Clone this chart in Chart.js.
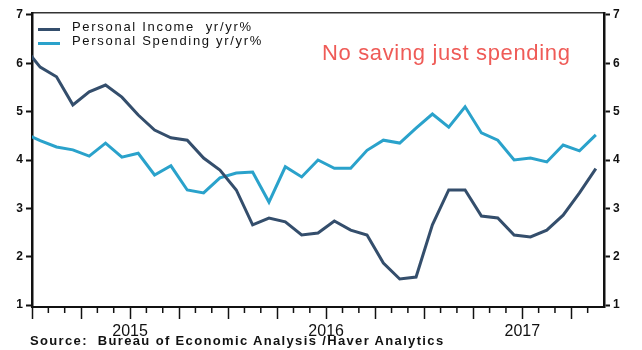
<!DOCTYPE html>
<html>
<head>
<meta charset="utf-8">
<script src="https://cdn.jsdelivr.net/npm/chart.js@4.4.0/dist/chart.umd.min.js"></script>
<style>
  html, body { margin: 0; padding: 0; background: #fff; }
  #wrap { position: relative; width: 642px; height: 350px; font-family: "Liberation Sans", Arial, sans-serif; }
  #wrap canvas { position: absolute; left: 0; top: 0; }
  .legend { position: absolute; left: 38px; top: 20px; font-size: 13px; line-height: 14px; color: #111; letter-spacing: 1.7px; }
  .legend div { position: relative; padding-left: 34px; white-space: nowrap; }
  .legend span { position: absolute; left: 0; top: 8px; width: 22px; height: 3px; }
  .note { position: absolute; left: 322px; top: 40px; font-size: 22px; line-height: 25px; color: #ef5b57; letter-spacing: 0.65px; white-space: nowrap; }
  .source { position: absolute; left: 30px; top: 333px; font-size: 13px; line-height: 15px; font-weight: bold; color: #111; letter-spacing: 1.35px; white-space: nowrap; }
</style>
</head>
<body>
<div id="wrap">
  <canvas id="chart" width="642" height="350"></canvas>
  <div class="legend">
    <div><span style="background:#344e6c"></span>Personal Income&nbsp; yr/yr%</div>
    <div><span style="background:#2aa2cb"></span>Personal Spending yr/yr%</div>
  </div>
  <div class="note">No saving just spending</div>
  <div class="source">Source:&nbsp; Bureau of Economic Analysis /Haver Analytics</div>
</div>
<script>
// yr/yr % change, monthly from Dec 2014 to Nov 2017
const income = [6.34, 5.92, 5.72, 5.14, 5.41, 5.55, 5.30, 4.93, 4.62, 4.46, 4.41, 4.04,
  3.79, 3.38, 2.66, 2.80, 2.72, 2.45, 2.49, 2.74, 2.55, 2.45, 1.87, 1.54,
  1.58, 2.66, 3.38, 3.38, 2.84, 2.80, 2.45, 2.41, 2.55, 2.86, 3.32, 3.82];
const spending = [4.56, 4.40, 4.27, 4.21, 4.08, 4.35, 4.06, 4.14, 3.69, 3.88, 3.38, 3.32,
  3.63, 3.73, 3.75, 3.13, 3.86, 3.65, 4.00, 3.83, 3.83, 4.20, 4.41, 4.35,
  4.66, 4.95, 4.68, 5.10, 4.56, 4.41, 4.00, 4.04, 3.96, 4.31, 4.19, 4.52];

const firstMonth = -1;   // Dec 2014, months counted from Jan 2015
const axisMonths = 35;   // axis runs Jan 2015 .. Dec 2017
const yearLabels = ['2015', '2016', '2017'];
const yTicks = [1, 2, 3, 4, 5, 6, 7];
const FONT = '"Liberation Sans", Arial, sans-serif';

// monthly values are plotted mid-month
function toPoints(values) {
  return values.map((v, i) => ({ x: firstMonth + i + 0.5, y: v }));
}

// short monthly ticks between the quarterly ones
const monthTicks = {
  id: 'monthTicks',
  afterDraw(chart) {
    const { ctx, scales: { x } } = chart;
    ctx.save();
    ctx.strokeStyle = '#111';
    ctx.lineWidth = 1.5;
    for (let m = 1; m < axisMonths; m++) {
      if (m % 3 === 0) continue;
      const px = x.getPixelForValue(m);
      ctx.beginPath();
      ctx.moveTo(px, x.top);
      ctx.lineTo(px, x.top + 6);
      ctx.stroke();
    }
    ctx.restore();
  }
};

const valueAxis = (position, width) => ({
  position,
  min: 0.96,
  max: 7.04,
  afterFit: s => { s.width = width; },
  afterBuildTicks: s => { s.ticks = yTicks.map(v => ({ value: v })); },
  ticks: { padding: 3, color: '#111', font: { family: FONT, size: 12, weight: 'bold' } },
  grid: { drawOnChartArea: false, tickLength: 6, tickWidth: 2, tickColor: '#111' },
  border: { width: 2.5, color: '#111' }
});

new Chart(document.getElementById('chart'), {
  type: 'line',
  data: {
    datasets: [
      { label: 'Personal Income  yr/yr%', data: toPoints(income), borderColor: '#344e6c', borderWidth: 3, pointRadius: 0, tension: 0, clip: 0 },
      { label: 'Personal Spending yr/yr%', data: toPoints(spending), borderColor: '#2aa2cb', borderWidth: 3, pointRadius: 0, tension: 0, clip: 0 }
    ]
  },
  options: {
    responsive: false,
    animation: false,
    layout: { padding: { top: 13, left: 0, right: 0, bottom: 0 } },
    plugins: { legend: { display: false }, tooltip: { enabled: false } },
    scales: {
      x: {
        type: 'linear',
        position: 'bottom',
        min: 0,
        max: axisMonths,
        afterFit: s => { s.height = 43; },
        afterBuildTicks: s => { s.ticks = s.ticks.filter(t => t.value % 3 === 0); },
        ticks: {
          stepSize: 1,
          autoSkip: false,
          maxRotation: 0,
          padding: 3,
          color: '#111',
          font: { family: FONT, size: 16 },
          callback: v => (v % 12 === 6 ? yearLabels[(v - 6) / 12] : '')
        },
        grid: { drawOnChartArea: false, tickLength: 12, tickWidth: 1.5, tickColor: '#111' },
        border: { width: 2, color: '#111' }
      },
      top: {
        type: 'linear',
        position: 'top',
        min: 0,
        max: axisMonths,
        afterFit: s => { s.height = 0; },
        ticks: { display: false },
        grid: { drawOnChartArea: false, drawTicks: false },
        border: { width: 1.5, color: '#333' }
      },
      y: valueAxis('left', 32),
      y2: valueAxis('right', 38)
    }
  },
  plugins: [monthTicks]
});
</script>
</body>
</html>
